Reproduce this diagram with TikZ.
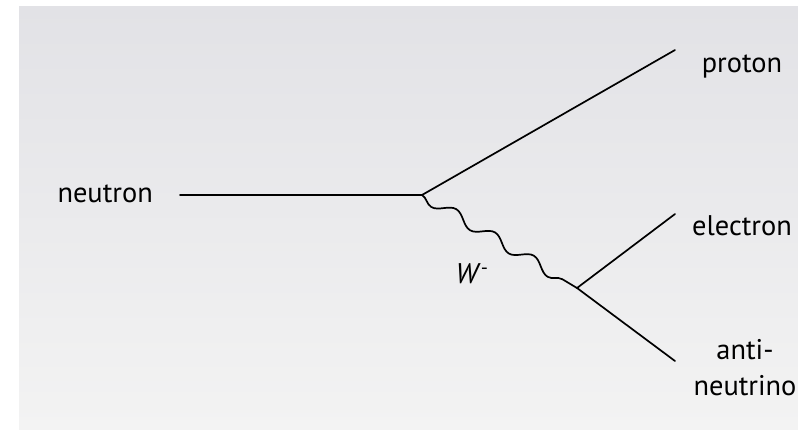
\documentclass[tikz,border=0pt]{standalone}
\usepackage{fontspec}
\setmainfont{PT Sans}
\usetikzlibrary{positioning,decorations.pathmorphing}
\definecolor{PanelTop}{RGB}{226,226,230}
\definecolor{PanelBottom}{RGB}{243,243,243}

\begin{document}
\begin{tikzpicture}[x=1bp,y=-1bp,
  fermion/.style={line width=1.7bp,line cap=round},
  boson/.style={line width=1.7bp,decorate,
    decoration={snake,segment length=45.2bp,amplitude=-5.5bp}},
  partlabel/.style={font=\fontsize{28.5}{36}\selectfont,inner sep=0pt,align=center}]
  \useasboundingbox (0,0) rectangle (798,429);
  \shade[top color=PanelTop,bottom color=PanelBottom] (19,6) rectangle (798,429);
  % vertices and free ends
  \coordinate (v1) at (422,195);
  \coordinate (v2) at (577,288);
  \coordinate (nstart) at (180,195);
  \coordinate (pend) at (675,50);
  \coordinate (eend) at (675,214);
  \coordinate (aend) at (675,361);
  % particle names
  \node[partlabel,anchor=base east] (neutron) at (153,202) {neutron};
  \node[partlabel,anchor=base] (proton) at (742,72) {proton};
  \node[partlabel,anchor=base] (electron) at (742,235) {electron};
  \node[partlabel] (antinu) at (745,368) {anti-\\neutrino};
  \node[partlabel] (wlabel) at (472,274) {\textit{W}\textsuperscript{-}};
  % lines
  \draw[fermion] (nstart) -- (v1) -- (pend);
  \draw[boson] (v1) -- (v2);
  \draw[fermion] (eend) -- (v2) -- (aend);
\end{tikzpicture}
\end{document}
